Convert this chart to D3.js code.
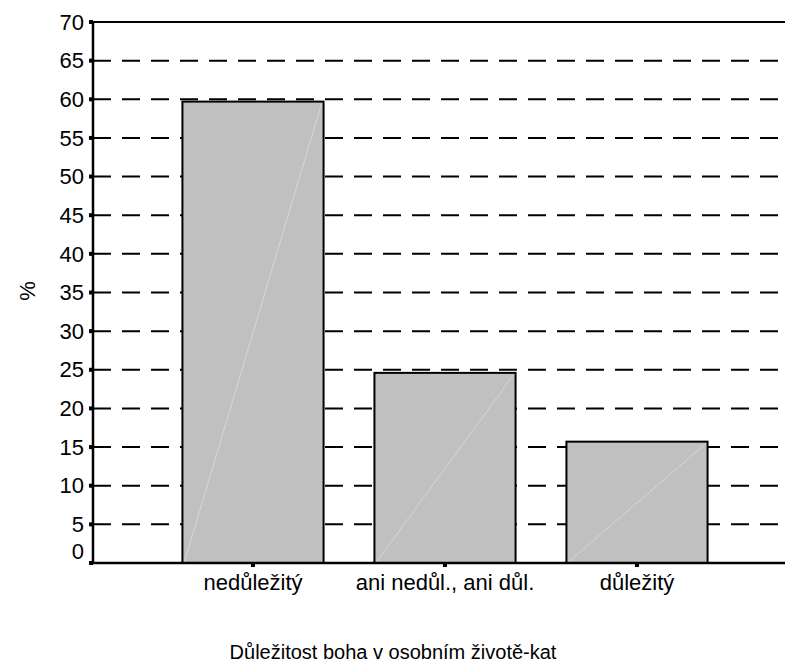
<!DOCTYPE html>
<html>
<head>
<meta charset="utf-8">
<script src="https://cdn.jsdelivr.net/npm/d3@7"></script>
<style>
body { margin: 0; background: #fff; }
text { font-family: "Liberation Sans", Arial, sans-serif; fill: #000; }
</style>
</head>
<body>
<svg width="785" height="661"></svg>
<script>
// categories and values (%)
var categories = ["nedůležitý", "ani nedůl., ani důl.", "důležitý"];
var values = [59.7, 24.6, 15.7];
var yTicks = [0, 5, 10, 15, 20, 25, 30, 35, 40, 45, 50, 55, 60, 65, 70];
var xTitle = "Důležitost boha v osobním životě-kat";
var yTitle = "%";

var svg = d3.select('svg');
var plotLeft = 93, plotRight = 785, plotTop = 22, plotBottom = 563;

// Y range
var ys = d3.scaleLinear().domain([0, 70]).range([plotBottom, plotTop]);
// X range
var xs = d3.scaleBand().domain(categories).range([157, 733]).paddingInner(0.265).paddingOuter(0.1325);

// gridlines
svg.append('g')
  .selectAll('line')
  .data(yTicks.filter(function(d) { return d > 0; }))
  .enter()
  .append('line')
  .attr('x1', plotLeft)
  .attr('x2', plotRight)
  .attr('y1', function(d) { return ys(d); })
  .attr('y2', function(d) { return ys(d); })
  .attr('stroke', '#000')
  .attr('stroke-width', 2)
  .attr('stroke-dasharray', function(d) { return d == 70 ? null : '18,11'; });

// bars
var bars = svg.append('g')
  .selectAll('g')
  .data(values)
  .enter()
  .append('g');

bars.append('rect')
  .attr('x', function(d, i) { return xs(categories[i]); })
  .attr('y', function(d) { return ys(d); })
  .attr('width', xs.bandwidth())
  .attr('height', function(d) { return plotBottom - ys(d); })
  .attr('fill', '#c0c0c0')
  .attr('stroke', '#000')
  .attr('stroke-width', 2);

// faint diagonal artefact inside bars
bars.append('line')
  .attr('x1', function(d, i) { return xs(categories[i]) + 2; })
  .attr('y1', plotBottom - 1)
  .attr('x2', function(d, i) { return xs(categories[i]) + xs.bandwidth() - 2; })
  .attr('y2', function(d) { return ys(d) + 2; })
  .attr('stroke', '#dcdcdc')
  .attr('stroke-width', 0.8);

// axes lines
svg.append('line')
  .attr('x1', plotLeft).attr('x2', plotLeft)
  .attr('y1', plotTop - 1).attr('y2', plotBottom + 1)
  .attr('stroke', '#000').attr('stroke-width', 2.5);
svg.append('line')
  .attr('x1', plotLeft).attr('x2', plotRight)
  .attr('y1', plotBottom).attr('y2', plotBottom)
  .attr('stroke', '#000').attr('stroke-width', 2.5);

// y ticks (small squares) and labels
svg.append('g')
  .selectAll('rect')
  .data(yTicks)
  .enter()
  .append('rect')
  .attr('x', plotLeft - 4)
  .attr('y', function(d) { return ys(d) - 2; })
  .attr('width', 4)
  .attr('height', 4)
  .attr('fill', '#000');

svg.append('g')
  .selectAll('text')
  .data(yTicks)
  .enter()
  .append('text')
  .attr('x', 84)
  .attr('y', function(d) { return d == 0 ? ys(d) - 12 : ys(d); })
  .attr('dy', '0.35em')
  .attr('text-anchor', 'end')
  .style('font-size', '22px')
  .text(function(d) { return d; });

// x ticks and labels
svg.append('g')
  .selectAll('rect')
  .data(categories)
  .enter()
  .append('rect')
  .attr('x', function(d) { return xs(d) + xs.bandwidth() / 2 - 2; })
  .attr('y', plotBottom)
  .attr('width', 4)
  .attr('height', 4)
  .attr('fill', '#000');

svg.append('g')
  .selectAll('text')
  .data(categories)
  .enter()
  .append('text')
  .attr('x', function(d) { return xs(d) + xs.bandwidth() / 2; })
  .attr('y', 590)
  .attr('text-anchor', 'middle')
  .style('font-size', '22px')
  .text(function(d) { return d; });

// titles
svg.append('text')
  .attr('x', 393)
  .attr('y', 659)
  .attr('text-anchor', 'middle')
  .style('font-size', '20px')
  .text(xTitle);

svg.append('text')
  .attr('transform', 'translate(35,291) rotate(-90)')
  .attr('text-anchor', 'middle')
  .style('font-size', '22px')
  .text(yTitle);
</script>
</body>
</html>
